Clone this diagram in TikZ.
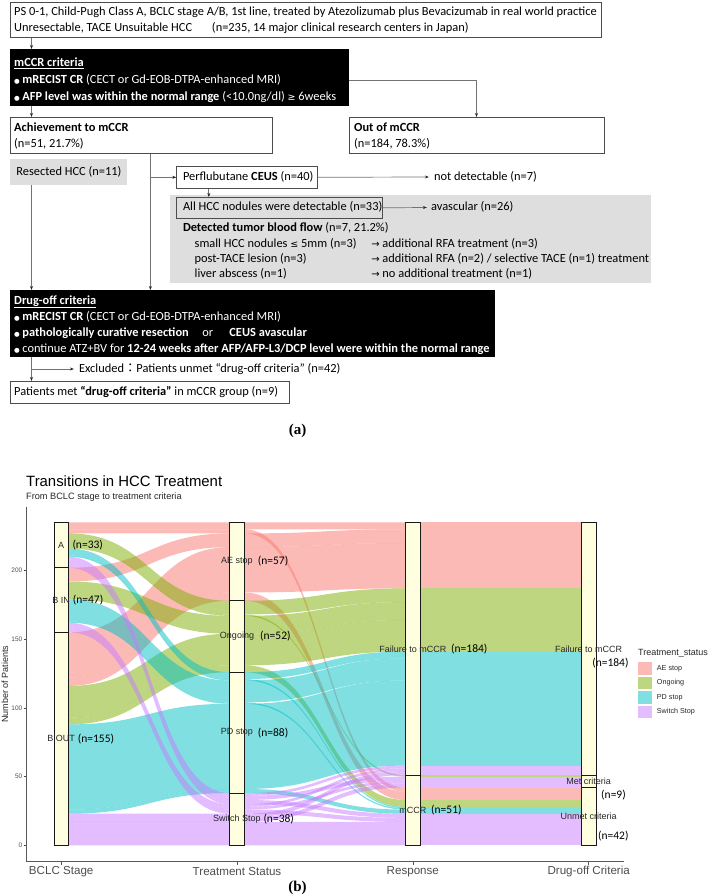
\documentclass[tikz,border=0pt]{standalone}
\usepackage{fontspec}
\setmainfont{Carlito}
\newfontfamily\arialf{Liberation Sans}
\newfontfamily\timesf{Liberation Serif}
\newfontfamily\symf{DejaVu Sans}
\newfontfamily\cjkf{Noto Sans CJK JP}
\usetikzlibrary{arrows.meta}
\definecolor{aec}{HTML}{F8766D}
\definecolor{onc}{HTML}{7CAE00}
\definecolor{pdc}{HTML}{00BFC4}
\definecolor{swc}{HTML}{C77CFF}
\definecolor{stratfill}{HTML}{FFFFE0}
\definecolor{boxgray}{HTML}{DEDEDE}
\definecolor{axgray}{HTML}{4D4D4D}
\newcommand\bul{{\symf\fontsize{6.5}{8}\selectfont ●}\hspace{2.5pt}}
\newcommand\sarr{{\symf\fontsize{10}{10}\selectfont →}}
\newcommand\sge{{\symf\fontsize{9.5}{10}\selectfont ≥}}
\newcommand\sle{{\symf\fontsize{9.5}{10}\selectfont ≤}}
% one flow segment between two axes: style, x1, x2, top1, bottom1, top2, bottom2
\newcommand\flowseg[7]{\fill[#1] (#2,#4) .. controls ({0.5*(#2+#3)},#4) and ({0.5*(#2+#3)},#6) .. (#3,#6) -- (#3,#7) .. controls ({0.5*(#2+#3)},#7) and ({0.5*(#2+#3)},#5) .. (#2,#5) -- cycle;}
% one alluvium over the four axes
\newcommand\alluv[7]{%
  \flowseg{#1}{68.5}{229.7}{#2}{#3}{#4}{#5}%
  \flowseg{#1}{244.3}{405.3}{#4}{#5}{#6}{#7}%
  \fill[#1] (420.3,#6) rectangle (581.3,#7);}
\begin{document}
\begin{tikzpicture}[x=1pt,y=-1pt]
\tikzset{
  fa/.style={font=\fontsize{12.4}{15}\selectfont},
  wbox/.style={draw=black!70, line width=0.6pt, fill=white, anchor=north west, inner sep=0pt},
  bbox/.style={fill=black, anchor=north west, inner sep=0pt},
  gbox/.style={fill=boxgray, anchor=north west, inner sep=0pt},
  lbl/.style={anchor=west, inner sep=0pt, text height=9.5pt, text depth=2.5pt, fa},
  wl/.style={lbl, text=white},
  conn/.style={draw=black!55, line width=0.7pt},
  arr/.style={conn, -{Stealth[length=4pt,width=3pt,color=black!85]}},
  ae/.style={fill=aec, fill opacity=0.5},
  on/.style={fill=onc, fill opacity=0.5},
  pd/.style={fill=pdc, fill opacity=0.5},
  sw/.style={fill=swc, fill opacity=0.5},
  strat/.style={draw=black!90, line width=0.9pt, fill=stratfill},
  slab/.style={font=\arialf\fontsize{9}{9}\selectfont, text=black!85, inner sep=0pt},
  nlab/.style={font=\fontsize{11.5}{12}\selectfont, anchor=west, inner sep=0pt},
  tick/.style={font=\arialf\fontsize{6.5}{7}\selectfont, text=axgray, anchor=east, inner sep=0pt},
  axlab/.style={font=\arialf\fontsize{11.6}{12}\selectfont, text=axgray, inner sep=0pt},
  leglab/.style={font=\arialf\fontsize{7.2}{8}\selectfont, text=black!85, anchor=west, inner sep=0pt},
}
\useasboundingbox (0,0) rectangle (708,896);

% ---------------- Part (a) ----------------
\coordinate (xl) at (31.5,0);
\coordinate (xm) at (150.4,0);
\coordinate (xc) at (208.8,0);

\node[wbox, minimum width=591.7pt, minimum height=35pt] (top) at (9.7,2) {};
\node[lbl] (t1) at (14,12.5) {PS 0-1, Child-Pugh Class A, BCLC stage A/B, 1st line, treated by Atezolizumab plus Bevacizumab in real world practice};
\node[lbl] (t2) at (14,28) {Unresectable, TACE Unsuitable HCC\hspace{1.6em}(n=235, 14 major clinical research centers in Japan)};

\node[bbox, minimum width=339pt, minimum height=57pt] (mccr) at (9.7,49) {};
\node[wl] (m1) at (14,63) {\underline{\textbf{mCCR criteria}}};
\node[wl] (m2) at (14,80) {\bul\textbf{mRECIST CR} (CECT or Gd-EOB-DTPA-enhanced MRI)};
\node[wl] (m3) at (14,97) {\bul\textbf{AFP level was within the normal range} (<10.0ng/dl) \sge{} 6weeks};

\node[wbox, minimum width=261.9pt, minimum height=36pt] (ach) at (9.7,117) {};
\node[lbl] (a1) at (14,128) {\textbf{Achievement to mCCR}};
\node[lbl] (a2) at (14,144) {(n=51, 21.7\%)};

\node[wbox, minimum width=255pt, minimum height=36pt] (out) at (348.7,117) {};
\node[lbl] (o1) at (354,128) {\textbf{Out of mCCR}};
\node[lbl] (o2) at (354,144) {(n=184, 78.3\%)};

\node[gbox, minimum width=116.9pt, minimum height=26pt] (res) at (9.7,159) {};
\node[lbl] (r1) at (16.2,172) {Resected HCC (n=11)};

\node[gbox, minimum width=481.4pt, minimum height=88pt] (grayreg) at (169.8,195) {};

\node[wbox, minimum width=140.7pt, minimum height=22pt] (ceus) at (176.3,166) {};
\node[lbl] (c1) at (182.8,177) {Perflubutane \textbf{CEUS} (n=40)};
\node[lbl] (nd) at (433.9,177) {not detectable (n=7)};

\node[wbox, fill=boxgray, minimum width=205.7pt, minimum height=21pt] (allhcc) at (176.3,197) {};
\node[lbl] (h1) at (182.8,207.5) {All HCC nodules were detectable (n=33)};
\node[lbl] (avas) at (430.9,207.5) {avascular (n=26)};

\node[lbl] (d0) at (182.8,228) {\textbf{Detected tumor blood flow} (n=7, 21.2\%)};
\node[lbl] (d1) at (194.5,244) {small HCC nodules \sle{} 5mm (n=3)};
\node[lbl] (d1r) at (371.1,244) {\sarr\ additional RFA treatment (n=3)};
\node[lbl] (d2) at (194.5,259) {post-TACE lesion (n=3)};
\node[lbl] (d2r) at (371.1,259) {\sarr\ additional RFA (n=2) / selective TACE (n=1) treatment};
\node[lbl] (d3) at (194.5,274) {liver abscess (n=1)};
\node[lbl] (d3r) at (371.1,274) {\sarr\ no additional treatment (n=1)};

\node[bbox, minimum width=484.8pt, minimum height=67pt] (drug) at (9.7,290) {};
\node[wl] (g1) at (14,300.5) {\underline{\textbf{Drug-off criteria}}};
\node[wl] (g2) at (14,316.5) {\bul\textbf{mRECIST CR} (CECT or Gd-EOB-DTPA-enhanced MRI)};
\node[wl] (g3) at (14,332.5) {\bul\textbf{pathologically curative resection}\hspace{1.1em}or\hspace{1.3em}\textbf{CEUS avascular}};
\node[wl] (g4) at (14,348.5) {\bul continue ATZ+BV for \textbf{12-24 weeks after AFP/AFP-L3/DCP level were within the normal range}};

\node[lbl] (excl) at (78.9,369) {Excluded{\cjkf ：}Patients unmet “drug-off criteria” (n=42)};

\node[wbox, minimum width=279.2pt, minimum height=22pt] (pat) at (9.7,381) {};
\node[lbl] (p1) at (14,392) {Patients met \textbf{“drug-off criteria”} in mCCR group (n=9)};

\node[font=\timesf\bfseries\fontsize{15}{15}\selectfont, inner sep=0pt] (la) at (297.5,431) {(a)};

% connectors
\draw[arr] (top.south -| xl) -- (mccr.north -| xl);
\draw[arr] (mccr.south -| xl) -- (ach.north -| xl);
\draw[arr] ([yshift=-2.5pt]mccr.east) -| (out.north);
\draw[arr] (ach.south -| xm) -- (drug.north -| xm);
\draw[arr] (ceus.west -| xm) -- (ceus.west);
\draw[arr] (res.south -| xl) -- (drug.north -| xl);
\draw[arr] (ceus.east) -- ([xshift=-5pt]nd.west);
\draw[arr] (ceus.south -| xc) -- (allhcc.north -| xc);
\draw[arr] (allhcc.east) -- ([xshift=-4pt]avas.west);
\draw[arr] (drug.south -| xl) -- (pat.north -| xl);
\draw[arr] (excl.west -| xl) -- ([xshift=-5pt]excl.west);

% ---------------- Part (b) ----------------
\node[anchor=west, inner sep=0pt, font=\arialf\fontsize{14.9}{15}\selectfont] (title) at (26,480.7) {Transitions in HCC Treatment};
\node[anchor=west, inner sep=0pt, font=\arialf\fontsize{9.2}{10}\selectfont, text=black!85] (subtitle) at (26,496.7) {From BCLC stage to treatment criteria};

\node[rotate=90, inner sep=0pt, font=\arialf\fontsize{9}{9}\selectfont, text=black!85] (ylab) at (5,684) {Number of Patients};

\begin{scope}[shift={(0,845.3)}, y=1.374pt]
  % alluvia (fill colour = treatment status)
  \alluv{ae}{235}{230}{235}{230}{235}{230}
  \alluv{ae}{230}{227}{230}{227}{42}{39}
  \alluv{ae}{202}{192}{227}{217}{230}{220}
  \alluv{ae}{155}{122}{217}{184}{220}{187}
  \alluv{ae}{122}{116}{184}{178}{39}{33}
  \alluv{on}{227}{217}{178}{168}{187}{177}
  \alluv{on}{217}{216}{168}{167}{51}{50}
  \alluv{on}{192}{179}{167}{154}{177}{164}
  \alluv{on}{116}{93}{154}{131}{164}{141}
  \alluv{on}{93}{88}{131}{126}{33}{28}
  \alluv{pd}{216}{211}{126}{121}{141}{136}
  \alluv{pd}{211}{210}{121}{120}{28}{27}
  \alluv{pd}{179}{163}{120}{104}{136}{120}
  \alluv{pd}{163}{162}{104}{103}{27}{26}
  \alluv{pd}{88}{26}{103}{41}{120}{58}
  \alluv{pd}{26}{23}{41}{38}{26}{23}
  \alluv{sw}{210}{208}{38}{36}{58}{56}
  \alluv{sw}{208}{205}{36}{33}{50}{47}
  \alluv{sw}{205}{202}{33}{30}{23}{20}
  \alluv{sw}{162}{160}{30}{28}{56}{54}
  \alluv{sw}{160}{158}{28}{26}{47}{45}
  \alluv{sw}{158}{155}{26}{23}{20}{17}
  \alluv{sw}{23}{20}{23}{20}{54}{51}
  \alluv{sw}{20}{17}{20}{17}{45}{42}
  \alluv{sw}{17}{0}{17}{0}{17}{0}
  % strata
  \draw[strat] (54,235) rectangle (68.5,202);
  \draw[strat] (54,202) rectangle (68.5,155);
  \draw[strat] (54,155) rectangle (68.5,0);
  \draw[strat] (229.7,235) rectangle (244.3,178);
  \draw[strat] (229.7,178) rectangle (244.3,126);
  \draw[strat] (229.7,126) rectangle (244.3,38);
  \draw[strat] (229.7,38) rectangle (244.3,0);
  \draw[strat] (405.3,235) rectangle (420.3,51);
  \draw[strat] (405.3,51) rectangle (420.3,0);
  \draw[strat] (581.3,235) rectangle (596,51);
  \draw[strat] (581.3,51) rectangle (596,42);
  \draw[strat] (581.3,42) rectangle (596,0);
  % stratum labels
  \node[slab] (sA) at (61.2,218.5) {A};
  \node[nlab] (nA) at (72.3,218.3) {(n=33)};
  \node[slab] (sBI) at (61.2,178.5) {B IN};
  \node[nlab] (nBI) at (72.7,178.5) {(n=47)};
  \node[slab] (sBO) at (61.2,77.5) {B OUT};
  \node[nlab] (nBO) at (77.7,77.3) {(n=155)};
  \node[slab] (sAE) at (237,206.5) {AE stop};
  \node[nlab] (nAE) at (257.7,206.5) {(n=57)};
  \node[slab] (sON) at (237,152) {Ongoing};
  \node[nlab] (nON) at (260,152) {(n=52)};
  \node[slab] (sPD) at (237,82) {PD stop};
  \node[nlab] (nPD) at (257.7,82) {(n=88)};
  \node[slab] (sSW) at (237,19) {Switch Stop};
  \node[nlab] (nSW) at (263.3,19) {(n=38)};
  \node[slab] (sRF) at (412.8,143) {Failure to mCCR};
  \node[nlab] (nRF) at (451,143) {(n=184)};
  \node[slab] (sRM) at (412.8,25.5) {mCCR};
  \node[nlab] (nRM) at (431,25.5) {(n=51)};
  \node[slab] (sDF) at (588.7,143) {Failure to mCCR};
  \node[nlab, anchor=east] (nDF) at (628.7,132.5) {(n=184)};
  \node[slab] (sDM) at (588.7,46.5) {Met criteria};
  \node[nlab, anchor=east] (nDM) at (626,36.6) {(n=9)};
  \node[slab] (sDU) at (588.7,21) {Unmet criteria};
  \node[nlab, anchor=east] (nDU) at (628.7,6.8) {(n=42)};
  % y ticks
  \foreach \v in {0,50,100,150,200} {
    \draw[axgray, line width=0.6pt] (23.5,\v) -- (26,\v);
    \node[tick] (yt\v) at (22.5,\v) {\v};
  }
\end{scope}

% axes
\draw[black!65, line width=0.8pt] (26,506.7) -- (26,861) -- (624,861);
\foreach \xx/\nm in {61.2/BCLC Stage, 237/Treatment Status, 412.8/Response, 588.7/Drug-off Criteria} {
  \draw[black!65, line width=0.6pt] (\xx,861) -- (\xx,864.5);
  \node[axlab] (xt\xx) at (\xx,871.5) {\nm};
}

% legend
\node[anchor=west, inner sep=0pt, font=\arialf\fontsize{9}{9}\selectfont, text=black!85] (legtitle) at (638,653.3) {Treatment\_status};
\fill[ae] (638,662.3) rectangle (651.7,675);
\fill[on] (638,676.7) rectangle (651.7,689.4);
\fill[pd] (638,691.1) rectangle (651.7,703.8);
\fill[sw] (638,705.5) rectangle (651.7,718.2);
\node[leglab] (l1) at (656.7,668.7) {AE stop};
\node[leglab] (l2) at (656.7,683.1) {Ongoing};
\node[leglab] (l3) at (656.7,697.5) {PD stop};
\node[leglab] (l4) at (656.7,711.9) {Switch Stop};

\node[font=\timesf\bfseries\fontsize{15}{15}\selectfont, inner sep=0pt] (lb) at (297.5,888) {(b)};
\end{tikzpicture}
\end{document}
